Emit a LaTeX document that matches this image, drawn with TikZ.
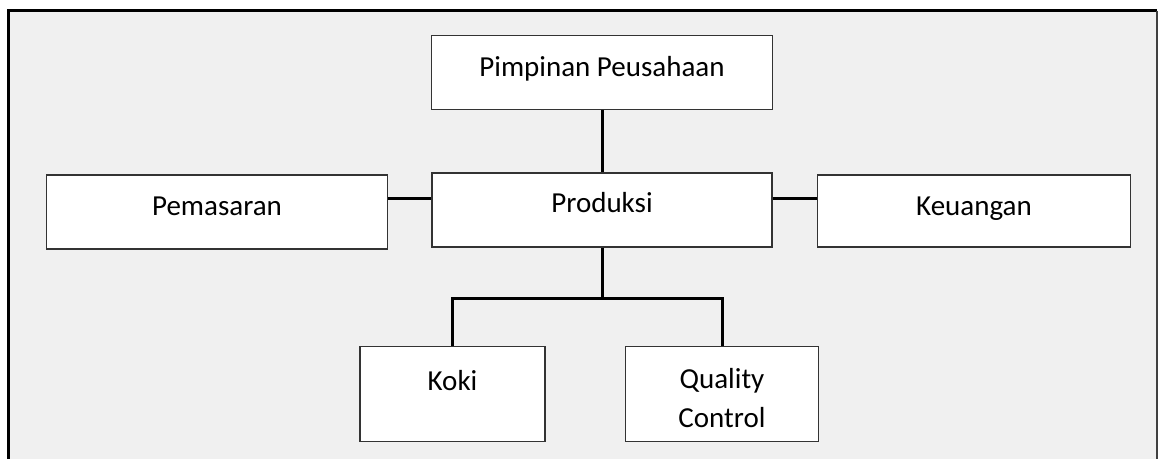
\documentclass[tikz,border=0pt]{standalone}
\usepackage{fontspec}
\setmainfont{Carlito}
\usetikzlibrary{positioning}
\definecolor{framefill}{HTML}{F0F0F0}
\definecolor{boxline}{HTML}{333333}

\begin{document}
\begin{tikzpicture}[x=0.5pt,y=-0.5pt,line width=1.5pt,
                    font=\fontsize{14.5pt}{19.5pt}\selectfont]
  \tikzstyle{unit}=[draw=boxline, line width=0.75pt, fill=white, inner sep=0pt,
                    text height=20.5pt, text depth=16.5pt]

  % frame
  \useasboundingbox (0,0) rectangle (1160,459);
  \fill[framefill] (8,11) rectangle (1157,459);
  \draw (8,459) -- (8,11) -- (1157,11);
  \draw[black!75, line width=1pt] (1157,11) -- (1157,459);

  \node[unit, minimum width=170pt, text height=20pt, text depth=17pt] (prod) at (602,210) {Produksi};
  \node[unit, minimum width=170.5pt, above=31pt of prod]              (pimp) {Pimpinan Peusahaan};
  \node[unit, minimum width=170.5pt, left=21.5pt of prod, yshift=-1pt] (pem) {Pemasaran};
  \node[unit, minimum width=156.5pt, right=22pt of prod, yshift=-0.5pt, text depth=15.5pt] (keu) {Keuangan};
  \node[unit, minimum width=92.5pt, below=49pt of prod, xshift=-74.75pt,
        text height=22pt, text depth=25.5pt] (koki) {Koki};
  \node[unit, minimum width=96.5pt, right=39.5pt of koki, align=center,
        text height=40.5pt, text depth=7pt] (qc) {Quality\\Control};

  \coordinate (side)  at (602,199);
  \coordinate (split) at (602,299);

  \path (pimp) edge (prod);
  \draw (pem.east |- side) -- (prod.west |- side)
        (prod.east |- side) -- (keu.west |- side);
  \draw (prod.south) -- (split);
  \draw (koki.north) |- (split) -| (qc.north);

\end{tikzpicture}
\end{document}
